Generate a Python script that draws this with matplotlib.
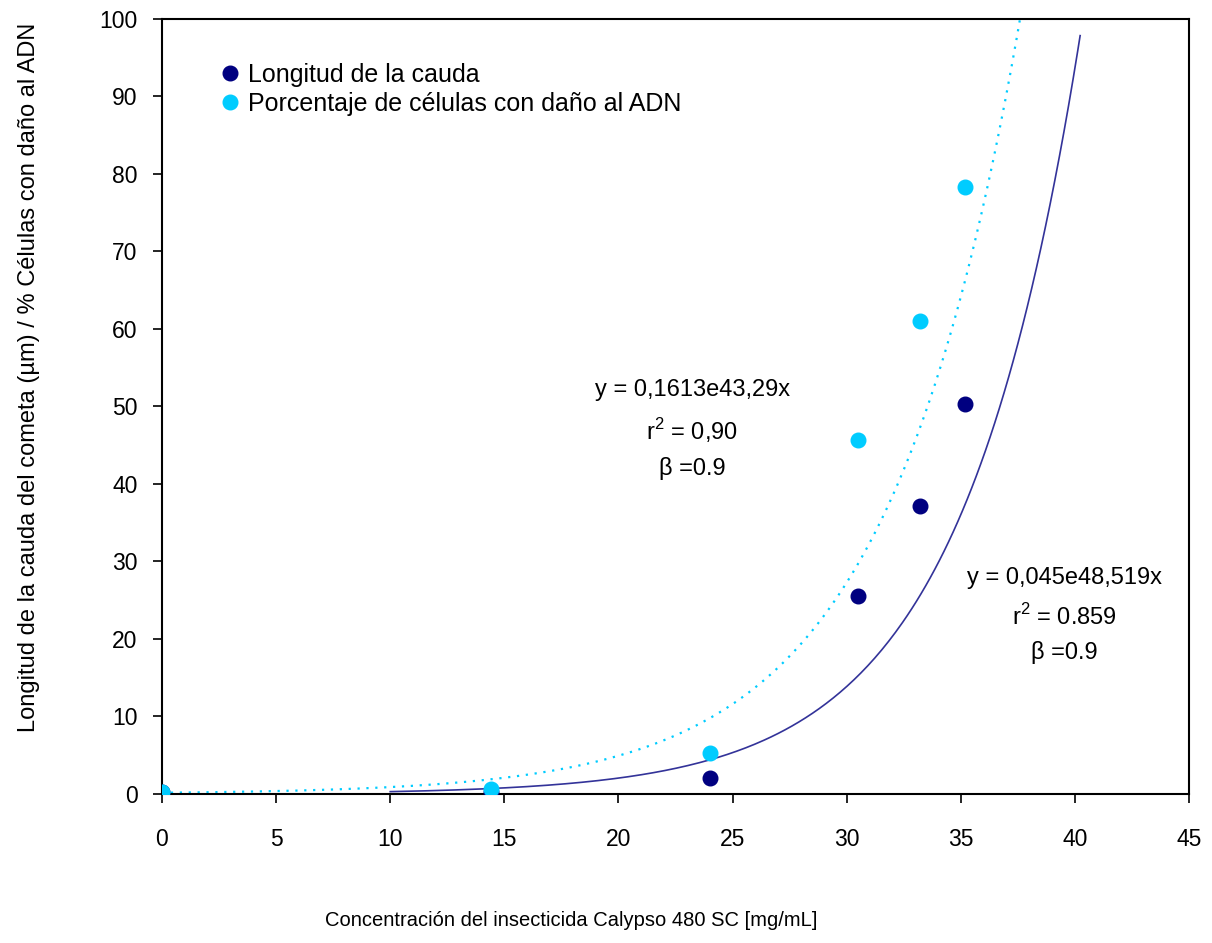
import numpy as np
import matplotlib
matplotlib.use("Agg")
import matplotlib.pyplot as plt

plt.rcParams['font.family'] = ['Liberation Sans', 'DejaVu Sans']
plt.rcParams['mathtext.fontset'] = 'custom'
plt.rcParams['mathtext.rm'] = 'Liberation Sans'

# datos
concentracion = [0, 14.4, 24.0, 30.5, 33.2, 35.2]
longitud_cauda = [0.2, 0.3, 2.1, 25.5, 37.1, 50.3]
porc_dano = [0.3, 0.6, 5.3, 45.6, 61.0, 78.3]

# lineas de tendencia exponencial y = a*exp(b*x)
tend_longitud = {'a': 0.045, 'b': 0.191, 'x0': 10.0, 'x1': 40.23}
tend_porc = {'a': 0.1613, 'b': 0.171, 'x0': 0.0, 'x1': 38.5}

xticks = list(range(0, 50, 5))
yticks = list(range(0, 110, 10))

c_oscuro = '#000080'
c_cian = '#00CCFF'
c_linea = '#333399'

fig = plt.figure(figsize=(12.12, 9.43), dpi=100)
ax = fig.add_axes([162 / 1212, 1 - 794 / 943, 1027 / 1212, 775.5 / 943])

xl = np.linspace(tend_longitud['x0'], tend_longitud['x1'], 300)
ax.plot(xl, tend_longitud['a'] * np.exp(tend_longitud['b'] * xl), color=c_linea, lw=1.2, zorder=2)
xp = np.linspace(tend_porc['x0'], tend_porc['x1'], 300)
ax.plot(xp, tend_porc['a'] * np.exp(tend_porc['b'] * xp), color=c_cian, lw=1.6,
        linestyle=(0, (1, 3)), dash_capstyle='butt', zorder=2)

ax.plot(concentracion, longitud_cauda, 'o', color=c_oscuro, ms=10.5, zorder=3,
        label='Longitud de la cauda')
ax.plot(concentracion, porc_dano, 'o', color=c_cian, ms=10.5, zorder=4,
        label='Porcentaje de células con daño al ADN')

ax.set_xlim(0, 45)
ax.set_ylim(0, 100)
ax.set_xticks(xticks)
ax.set_yticks(yticks)
ax.tick_params(direction='out', length=6.5, width=1.2, labelsize=16.5)
ax.tick_params(axis='x', pad=18)
ax.tick_params(axis='y', pad=11)
for s in ax.spines.values():
    s.set_linewidth(1.5)

leg = ax.legend(loc='upper left', bbox_to_anchor=(0.0565, 0.943), frameon=False,
                fontsize=18, handlelength=0.8, handletextpad=0.3,
                labelspacing=0.2, borderpad=0, borderaxespad=0, numpoints=1)

ax.set_xlabel('Concentración del insecticida Calypso 480 SC [mg/mL]',
              fontsize=14.5, va='center')
ax.xaxis.set_label_coords(0.398, -0.1625)
ax.set_ylabel('Longitud de la cauda del cometa (µm) / % Células con daño al ADN',
              fontsize=17, va='center')
ax.yaxis.set_label_coords(-0.1295, 0.537)

fs = 17
ax.text(23.23, 52.1, 'y = 0,1613e43,29x', ha='center', va='center', fontsize=fs)
ax.text(23.23, 46.9, 'r$^{2}$ = 0,90', ha='center', va='center', fontsize=fs)
ax.text(23.23, 42.0, 'β =0.9', ha='center', va='center', fontsize=fs)
ax.text(39.55, 27.85, 'y = 0,045e48,519x', ha='center', va='center', fontsize=fs)
ax.text(39.55, 22.8, 'r$^{2}$ = 0.859', ha='center', va='center', fontsize=fs)
ax.text(39.55, 18.2, 'β =0.9', ha='center', va='center', fontsize=fs)

plt.savefig('out.png', dpi=100)
